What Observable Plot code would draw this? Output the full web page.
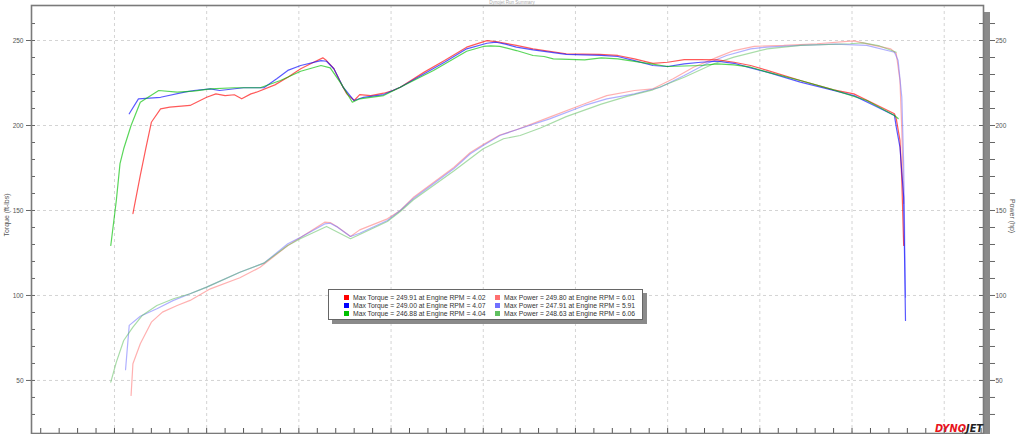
<!DOCTYPE html>
<html><head><meta charset="utf-8">
<script src="https://cdn.jsdelivr.net/npm/d3@7"></script>
<script src="https://cdn.jsdelivr.net/npm/@observablehq/plot@0.6"></script>
<style>
html,body{margin:0;padding:0;background:#fff;}
#chart{position:relative;width:1024px;height:434px;overflow:hidden;}
</style></head><body><div id="chart"></div>
<script>
// ---- data (Engine RPM x1000, ft-lbs / hp) ----
const redTorque = [[2.10,148.2],[2.14,170.6],[2.17,186.5],[2.20,201.9],[2.25,209.8],[2.30,210.8],[2.41,211.8],[2.50,216.6],[2.55,218.6],[2.60,217.6],[2.65,218.1],[2.69,215.7],[2.74,218.6],[2.77,219.6],[2.87,223.9],[2.94,228.4],[3.01,233.4],[3.08,237.2],[3.13,239.8],[3.15,238.2],[3.19,233.4],[3.23,224.5],[3.26,218.6],[3.30,214.7],[3.33,218.2],[3.39,217.6],[3.46,219.0],[3.51,220.6],[3.55,222.5],[3.68,231.4],[3.79,238.2],[3.91,246.1],[4.02,249.9],[4.09,249.0],[4.18,247.1],[4.27,245.1],[4.45,242.2],[4.63,241.8],[4.73,241.2],[4.82,239.2],[4.92,236.6],[5.00,237.2],[5.09,238.8],[5.18,238.8],[5.27,238.6],[5.36,237.2],[5.45,235.3],[5.54,232.4],[5.72,226.5],[5.90,221.0],[6.01,218.6],[6.12,212.8],[6.23,206.9],[6.24,203.9],[6.26,191.2],[6.27,167.6],[6.28,129.4]];
const blueTorque = [[2.08,206.9],[2.13,215.7],[2.25,216.6],[2.38,219.6],[2.43,220.6],[2.52,221.6],[2.57,220.6],[2.70,222.2],[2.81,222.2],[2.88,227.5],[2.94,232.4],[3.01,235.3],[3.12,238.2],[3.15,237.8],[3.19,233.4],[3.24,222.5],[3.30,214.7],[3.35,216.6],[3.46,218.2],[3.55,222.5],[3.68,230.4],[3.79,237.2],[3.91,245.1],[4.02,248.4],[4.07,249.0],[4.12,247.9],[4.18,246.1],[4.27,244.5],[4.45,241.8],[4.64,241.2],[4.73,240.6],[4.82,238.2],[4.92,235.3],[5.00,234.7],[5.09,236.3],[5.18,237.2],[5.27,237.8],[5.36,236.6],[5.45,233.9],[5.54,231.4],[5.72,225.5],[5.90,220.6],[6.01,217.6],[6.12,211.8],[6.23,205.9],[6.24,199.0],[6.26,187.2],[6.28,157.8],[6.29,85.3]];
const greenTorque = [[1.98,129.4],[2.01,155.9],[2.03,177.6],[2.05,186.3],[2.09,200.0],[2.14,213.7],[2.24,220.6],[2.34,219.6],[2.43,220.2],[2.52,221.6],[2.65,222.2],[2.79,222.2],[2.90,226.5],[3.01,231.9],[3.12,235.3],[3.17,233.9],[3.23,224.5],[3.29,213.7],[3.33,215.7],[3.46,217.6],[3.55,222.5],[3.73,232.4],[3.91,243.7],[4.00,246.5],[4.04,246.9],[4.09,246.6],[4.18,244.1],[4.27,241.2],[4.33,240.6],[4.38,239.2],[4.55,238.6],[4.64,239.8],[4.73,239.2],[4.91,236.3],[5.00,234.7],[5.18,235.3],[5.27,236.3],[5.36,235.7],[5.45,234.3],[5.54,231.4],[5.72,226.5],[5.90,221.0],[6.08,214.7],[6.23,205.9],[6.25,204.1]];
const redPower = [[2.09,41.2],[2.10,59.8],[2.14,71.6],[2.20,84.3],[2.26,90.2],[2.34,94.1],[2.41,97.1],[2.52,103.9],[2.68,110.4],[2.79,116.6],[2.94,129.4],[3.14,143.1],[3.17,142.9],[3.21,140.3],[3.28,134.7],[3.33,138.6],[3.48,145.1],[3.55,150.0],[3.62,157.6],[3.73,166.5],[3.84,175.3],[3.93,184.1],[4.00,188.8],[4.09,194.4],[4.18,197.5],[4.36,204.9],[4.55,212.8],[4.67,217.6],[4.82,220.6],[4.92,221.6],[5.03,227.5],[5.14,234.3],[5.27,240.2],[5.36,244.1],[5.47,246.6],[5.63,247.1],[5.81,248.1],[6.01,249.8],[6.12,247.1],[6.21,245.1],[6.24,242.2],[6.26,226.5],[6.27,197.1],[6.28,154.1]];
const bluePower = [[2.06,56.3],[2.08,82.4],[2.14,87.8],[2.23,92.2],[2.32,97.1],[2.41,101.0],[2.50,104.9],[2.68,113.7],[2.81,119.0],[2.94,130.4],[3.01,134.3],[3.14,142.1],[3.17,142.5],[3.21,140.2],[3.28,134.7],[3.33,136.6],[3.48,144.1],[3.55,150.0],[3.62,156.9],[3.73,165.7],[3.84,174.5],[3.93,183.4],[4.00,188.2],[4.09,194.1],[4.18,197.5],[4.36,203.9],[4.55,211.8],[4.67,215.7],[4.82,218.6],[4.96,222.5],[5.09,229.4],[5.21,236.3],[5.32,241.2],[5.45,245.1],[5.54,246.1],[5.72,247.1],[5.91,247.9],[6.08,247.1],[6.23,243.1],[6.25,238.2],[6.27,216.6],[6.28,177.6],[6.29,99.0]];
const greenPower = [[1.98,49.0],[2.01,60.8],[2.05,73.5],[2.10,81.4],[2.15,88.2],[2.23,94.1],[2.32,98.1],[2.41,101.0],[2.50,104.9],[2.68,113.7],[2.81,119.0],[2.94,129.4],[3.01,133.5],[3.15,140.6],[3.28,133.4],[3.33,135.9],[3.48,143.5],[3.55,149.4],[3.62,156.2],[3.73,164.7],[3.84,173.2],[4.00,186.3],[4.11,192.2],[4.20,194.1],[4.31,198.5],[4.45,205.2],[4.64,212.6],[4.78,217.1],[4.92,221.0],[5.09,228.4],[5.25,236.3],[5.36,240.2],[5.54,245.1],[5.72,247.1],[5.99,248.1],[6.06,248.6],[6.15,246.8],[6.24,243.1]];

const torqueColors = ["#ff0000", "#0000ff", "#00c000"];
const powerColors = ["#ff7070", "#7070ff", "#60c060"];
const maxTorque = ["249.91", "249.00", "246.88"];
const maxTorqueRpm = ["4.02", "4.07", "4.04"];
const maxPower = ["249.80", "247.91", "248.63"];
const maxPowerRpm = ["6.01", "5.91", "6.06"];

const xDomain = [1.55, 6.713];
const yDomain = [18.8, 270.6];
const xMajorTicks = [2.0, 2.5, 3.0, 3.5, 4.0, 4.5, 5.0, 5.5, 6.0, 6.5];
const xMinorTicks = d3.range(16, 68).map(d => d / 10);
const yMajorTicks = [50, 100, 150, 200, 250];
const yMinorTicks = d3.range(30, 270, 10);

const torqueSeries = [redTorque, blueTorque, greenTorque];
const powerSeries = [redPower, bluePower, greenPower];

const W = 1024, H = 434;
const mL = 31, mR = 41, mT = 5, mB = 1;
const innerW = W - mL - mR;
const innerH = H - mT - mB;

const lineMarks = [];
powerSeries.forEach((s, i) => lineMarks.push(Plot.line(s, {x: d => d[0], y: d => d[1], stroke: powerColors[i], strokeWidth: 1.2, strokeOpacity: 0.55})));
torqueSeries.forEach((s, i) => lineMarks.push(Plot.line(s, {x: d => d[0], y: d => d[1], stroke: torqueColors[i], strokeWidth: 1.2, strokeOpacity: 0.65})));

const fmt = d => (d % 50 === 0 ? String(d) : "");

const chart = Plot.plot({
  width: W, height: H,
  marginLeft: mL, marginRight: mR, marginTop: mT, marginBottom: mB,
  style: {fontFamily: "'Liberation Sans', Arial, sans-serif", fontSize: "6.5px", color: "#555", background: "transparent"},
  x: {domain: xDomain, axis: null},
  y: {domain: yDomain, axis: null},
  marks: [
    Plot.gridX({ticks: xMajorTicks, stroke: "#d4d4d4", strokeOpacity: 1, strokeDasharray: "3,3"}),
    Plot.gridY({ticks: yMajorTicks, stroke: "#d4d4d4", strokeOpacity: 1, strokeDasharray: "3,3"}),
    ...lineMarks,
    Plot.tickY(yMinorTicks, {y: d => d, insetRight: innerW - 4, stroke: "#666"}),
    Plot.tickY(yMinorTicks, {y: d => d, insetLeft: innerW - 4, stroke: "#666"}),
    Plot.tickX(xMinorTicks, {x: d => d, insetTop: innerH - 5, stroke: "#555"}),
    Plot.axisY({anchor: "left", ticks: yMajorTicks, tickSize: 5, tickPadding: 3, tickFormat: fmt, fill: "#555", stroke: "#666"}),
    Plot.axisY({anchor: "right", ticks: yMinorTicks, tickSize: 5, tickPadding: 1, dx: 6, tickFormat: fmt, fill: "#555", stroke: "#666"}),
    Plot.frame({stroke: "#7a7a7a", strokeWidth: 1.6})
  ]
});

document.getElementById("chart").appendChild(chart);
const svg = d3.select(chart);

// right shadow of the plot box
svg.insert("rect", ":first-child").attr("x", W - mR + 1).attr("y", 12).attr("width", 6).attr("height", H - 12).attr("fill", "#8a8a8a");

// title (small, above the plot box)
svg.append("text").attr("x", 512).attr("y", 4).attr("text-anchor", "middle").attr("font-size", 4.5).attr("fill", "#aaa").text("Dynojet Run Summary");

// axis titles
svg.append("text").attr("transform", "translate(9,215) rotate(-90)").attr("text-anchor", "middle").attr("font-size", 7).attr("fill", "#555").text("Torque (ft-lbs)");
svg.append("text").attr("transform", "translate(1010,216) rotate(90)").attr("text-anchor", "middle").attr("font-size", 7).attr("fill", "#555").text("Power (hp)");

// legend
const lg = svg.append("g").attr("text-anchor", "start");
lg.append("rect").attr("x", 332).attr("y", 293).attr("width", 315).attr("height", 31).attr("fill", "#8a8a8a");
lg.append("rect").attr("x", 328.5).attr("y", 289.5).attr("width", 314).attr("height", 30).attr("fill", "#fff").attr("stroke", "#666");
const rowsY = [297.5, 305.5, 313.5];
for (let i = 0; i < 3; i++) {
  lg.append("rect").attr("x", 344).attr("y", rowsY[i] - 2.5).attr("width", 5).attr("height", 5).attr("fill", torqueColors[i]);
  lg.append("text").attr("x", 353).attr("y", rowsY[i] + 2.3).attr("text-anchor", "start").attr("font-size", 6.8).attr("fill", "#333")
    .text(`Max Torque = ${maxTorque[i]} at Engine RPM = ${maxTorqueRpm[i]}`);
  lg.append("rect").attr("x", 495).attr("y", rowsY[i] - 2.5).attr("width", 5).attr("height", 5).attr("fill", powerColors[i]);
  lg.append("text").attr("x", 504).attr("y", rowsY[i] + 2.3).attr("text-anchor", "start").attr("font-size", 6.8).attr("fill", "#333")
    .text(`Max Power = ${maxPower[i]} at Engine RPM = ${maxPowerRpm[i]}`);
}

// logo
const logo = svg.append("text").attr("x", 935).attr("y", 432).attr("text-anchor", "start").attr("font-size", 9.8).attr("font-weight", "bold").attr("font-style", "italic").attr("font-family", "'DejaVu Sans', sans-serif");
logo.append("tspan").attr("fill", "#e8141c").text("DYNO");
logo.append("tspan").attr("fill", "#222").text("JET");
</script>
</body></html>
